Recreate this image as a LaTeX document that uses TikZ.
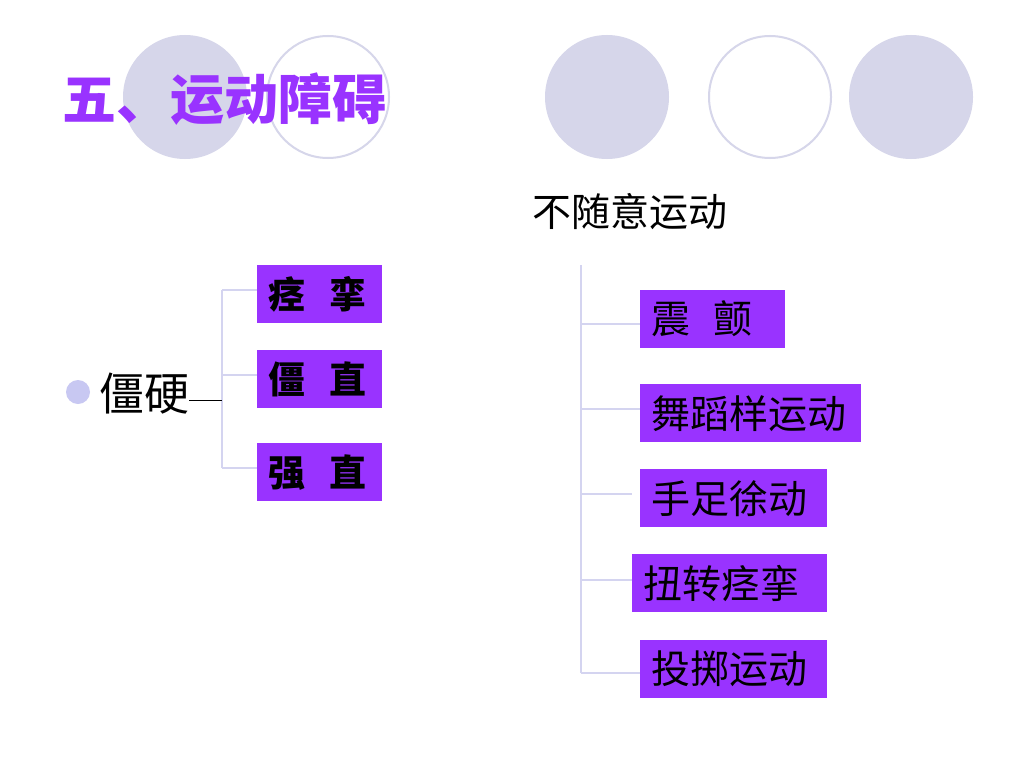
\documentclass[tikz,border=0pt]{standalone}
\usepackage{fontspec}
\setmainfont{Noto Sans CJK SC}
\definecolor{roxo}{HTML}{9933FF}
\definecolor{lilas}{RGB}{214,214,234}
\definecolor{marca}{RGB}{200,200,242}
\definecolor{ramo}{RGB}{212,212,240}
\tikzset{
  caixa/.style={fill=roxo, anchor=north west, inner xsep=11pt, inner ysep=0pt,
    minimum height=58pt, align=left, font=\fontsize{39pt}{42pt}\selectfont},
  caixaB/.style={caixa, font=\fontsize{37pt}{40pt}\selectfont\bfseries},
  ramo/.style={draw=ramo, line width=1.2pt},
}
\begin{document}
\begin{tikzpicture}[x=1pt,y=-1pt]
\useasboundingbox[fill=white] (0,0) rectangle (1024,768);

% circulos do topo
\fill[lilas] (185,97) circle (62);
\draw[lilas, line width=2pt] (328,97) circle (61);
\fill[lilas] (607,97) circle (62);
\draw[lilas, line width=2pt] (770,97) circle (61);
\fill[lilas] (911,97) circle (62);

% titulo
\node[anchor=west, inner sep=0pt, text=roxo, font=\fontsize{54pt}{58pt}\selectfont\bfseries]
  (titulo) at (62,99) {五、运动障碍};

% lado esquerdo
\fill[marca] (78,392) circle (12);
\node[anchor=west, inner sep=0pt, font=\fontsize{45pt}{48pt}\selectfont]
  (rigidez) at (99,394) {僵硬};

\node[caixaB, text width=103pt] (espasmo) at (257,265) {痉\hspace{0.65em}挛};
\node[caixaB, text width=103pt] (rigido)  at (257,350) {僵\hspace{0.65em}直};
\node[caixaB, text width=103pt] (forte)   at (257,443) {强\hspace{0.65em}直};

\coordinate (Lt) at (222,290);
\coordinate (Lm) at (222,375);
\coordinate (Lb) at (222,468);
\coordinate (Lc) at (222,400);

\draw[ramo] (Lt) -- (Lb);
\draw[ramo] (Lt) -- (Lt -| espasmo.west);
\draw[ramo] (Lm) -- (Lm -| rigido.west);
\draw[ramo] (Lb) -- (Lb -| forte.west);
\draw[line width=1pt] (rigidez.east |- Lc) -- (Lc);

% lado direito
\node[anchor=west, inner sep=0pt, font=\fontsize{39pt}{42pt}\selectfont]
  (involuntario) at (532,212) {不随意运动};

\node[caixa, text width=123pt] (tremor)  at (640,290) {震\hspace{0.6em}颤};
\node[caixa, text width=199pt] (coreia)  at (640,384) {舞蹈样运动};
\node[caixa, text width=165pt] (atetose) at (640,469) {手足徐动};
\node[caixa, text width=173pt] (torcao)  at (632,554) {扭转痉挛};
\node[caixa, text width=165pt] (balismo) at (640,640) {投掷运动};

\coordinate (Rt) at (581,265);
\coordinate (R1) at (581,324);
\coordinate (R2) at (581,409);
\coordinate (R3) at (581,494);
\coordinate (R4) at (581,580);
\coordinate (R5) at (581,673);

\draw[ramo] (Rt) -- (R5);
\draw[ramo] (R1) -- (R1 -| tremor.west);
\draw[ramo] (R2) -- (R2 -| coreia.west);
\draw[ramo] (R3) -- ++(51,0);
\draw[ramo] (R4) -- (R4 -| torcao.west);
\draw[ramo] (R5) -- (R5 -| balismo.west);

\end{tikzpicture}
\end{document}
